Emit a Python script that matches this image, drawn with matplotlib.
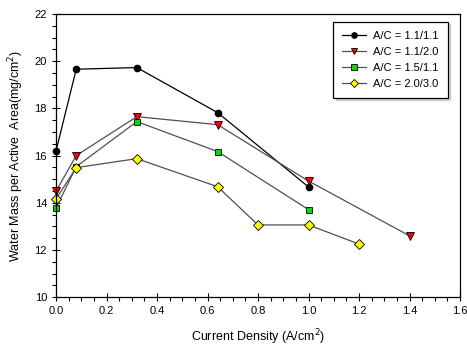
import matplotlib
matplotlib.use("Agg")
import matplotlib.pyplot as plt
from matplotlib.ticker import MultipleLocator

plt.rcParams['font.family'] = ['Liberation Sans', 'DejaVu Sans']

# data
x_11_11 = [0.0, 0.08, 0.32, 0.64, 1.0]
y_11_11 = [16.2, 19.66, 19.73, 17.82, 14.67]

x_11_20 = [0.0, 0.08, 0.32, 0.64, 1.0, 1.4]
y_11_20 = [14.49, 16.0, 17.65, 17.31, 14.92, 12.6]

x_15_11 = [0.0, 0.08, 0.32, 0.64, 1.0]
y_15_11 = [13.78, 15.53, 17.44, 16.17, 13.71]

x_20_30 = [0.0, 0.08, 0.32, 0.64, 0.8, 1.0, 1.2]
y_20_30 = [14.16, 15.49, 15.87, 14.68, 13.06, 13.06, 12.25]

labels = ['A/C = 1.1/1.1', 'A/C = 1.1/2.0', 'A/C = 1.5/1.1', 'A/C = 2.0/3.0']

fig = plt.figure(figsize=(4.67, 3.5), dpi=100)
ax = fig.add_axes([0.12, 0.151, 0.865, 0.809])

ax.plot(x_11_11, y_11_11, color='black', lw=0.9, marker='o', ms=4.5,
        mfc='black', mec='black', label=labels[0], clip_on=False)
ax.plot(x_11_20, y_11_20, color='#505050', lw=0.9, marker='v', ms=5.5,
        mfc='red', mec='black', mew=0.6, label=labels[1], clip_on=False)
ax.plot(x_15_11, y_15_11, color='#505050', lw=0.9, marker='s', ms=5,
        mfc='#00dd00', mec='black', mew=0.6, label=labels[2], clip_on=False)
ax.plot(x_20_30, y_20_30, color='#505050', lw=0.9, marker='D', ms=5,
        mfc='yellow', mec='black', mew=0.6, label=labels[3], clip_on=False)

ax.set_xlim(0, 1.6)
ax.set_ylim(10, 22)
ax.xaxis.set_major_locator(MultipleLocator(0.2))
ax.xaxis.set_minor_locator(MultipleLocator(0.05))
ax.yaxis.set_major_locator(MultipleLocator(2))
ax.yaxis.set_minor_locator(MultipleLocator(0.5))
ax.xaxis.set_major_formatter(plt.FormatStrFormatter('%.1f'))
ax.tick_params(which='major', direction='inout', length=6, width=0.8,
               labelsize=8, top=False, right=False)
ax.tick_params(which='minor', direction='out', length=3, width=0.8,
               top=False, right=False)
for s in ax.spines.values():
    s.set_linewidth(0.9)

ax.set_xlabel('Current Density (A/cm$^2$)', fontsize=9, labelpad=8)
ax.set_ylabel('Water Mass per Active  Area(mg/cm$^2$)', fontsize=9, labelpad=6)

leg = ax.legend(loc='upper right', bbox_to_anchor=(0.97, 0.972), fontsize=8,
                frameon=True, fancybox=False,
                shadow={'ox': 1.5, 'oy': -1.5, 'color': '#aaaaaa'},
                handlelength=2.1, markerscale=0.85, borderpad=0.8,
                labelspacing=0.55, handletextpad=0.7, borderaxespad=0)
leg.get_frame().set_edgecolor('black')
leg.get_frame().set_linewidth(0.9)

fig.savefig('out.png', dpi=100)
